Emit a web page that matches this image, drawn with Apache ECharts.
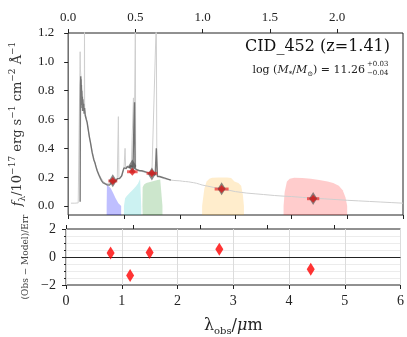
<!DOCTYPE html>
<html>
<head>
<meta charset="utf-8">
<script src="https://cdn.jsdelivr.net/npm/echarts@6/dist/echarts.min.js"></script>
<style>
  html, body { margin: 0; padding: 0; background: #fff; }
  #chart { width: 407px; height: 337px; }
</style>
</head>
<body>
<div id="chart"></div>
<script>
// redshift, used for the rest-frame top axis
const z = 1.41;

// model spectrum (light grey), obs wavelength in um
const modelSpec = [
  [0.05,0.02],[0.12,0.02],[0.18,0.022],[0.212,0.02],[0.215,1.07],[0.22,0.95],[0.228,0.9],[0.24,0.82],
  [0.26,0.76],[0.28,0.7],[0.29,0.68],[0.293,1.3],[0.296,0.67],[0.31,0.64],[0.34,0.58],[0.38,0.48],
  [0.43,0.38],[0.48,0.3],[0.53,0.24],[0.58,0.2],[0.63,0.17],[0.68,0.155],[0.73,0.155],[0.78,0.165],
  [0.83,0.175],[0.88,0.185],[0.9,0.62],[0.91,0.19],[0.95,0.2],[0.98,0.23],[1.0,0.26],[1.02,0.4],
  [1.03,0.265],[1.08,0.27],[1.13,0.27],[1.17,0.75],[1.18,0.26],[1.205,1.3],[1.21,0.255],[1.26,0.25],
  [1.32,0.24],[1.4,0.23],[1.5,0.22],[1.58,1.3],[1.59,0.21],[1.65,0.2],[1.72,0.19],[1.8,0.183],
  [1.88,0.178],[1.95,0.176],[2.0,0.175],[2.05,0.172],[2.08,0.178],[2.1,0.17],[2.13,0.176],[2.16,0.168],
  [2.2,0.165],[2.25,0.162],[2.3,0.158],[2.35,0.152],[2.4,0.146],[2.5,0.138],[2.6,0.13],[2.7,0.122],
  [2.8,0.115],[2.9,0.108],[3.0,0.1],[3.1,0.095],[3.2,0.09],[3.35,0.085],[3.5,0.08],[3.7,0.073],
  [3.85,0.069],[4.0,0.066],[4.2,0.06],[4.4,0.055],[4.6,0.05],[4.8,0.045],[5.0,0.04],[5.2,0.036],
  [5.4,0.032],[5.6,0.028],[5.8,0.024],[6.0,0.02]
];

// observed spectrum (dark grey)
const obsSpec = [
  [0.215,0.03],[0.218,0.5],[0.222,0.84],[0.226,0.9],[0.229,0.8],[0.232,0.88],[0.235,0.74],[0.238,0.84],
  [0.241,0.7],[0.245,0.8],[0.249,0.68],[0.253,0.76],[0.258,0.66],[0.263,0.74],[0.27,0.66],[0.278,0.71],
  [0.286,0.64],[0.295,0.68],[0.305,0.63],[0.315,0.64],[0.325,0.6],[0.34,0.58],[0.36,0.53],[0.38,0.48],
  [0.4,0.44],[0.43,0.37],[0.46,0.32],[0.48,0.3],[0.5,0.27],[0.52,0.245],[0.55,0.215],[0.58,0.19],
  [0.6,0.175],[0.63,0.16],[0.66,0.15],[0.69,0.148],[0.72,0.15],[0.74,0.145],[0.76,0.158],[0.78,0.162],
  [0.8,0.172],[0.82,0.168],[0.84,0.18],[0.86,0.175],[0.88,0.19],[0.9,0.2],[0.92,0.19],[0.94,0.2],
  [0.96,0.21],[0.98,0.24],[1.0,0.265],[1.02,0.27],[1.04,0.26],[1.06,0.275],[1.08,0.27],[1.1,0.265],
  [1.12,0.28],[1.14,0.285],[1.16,0.27],[1.18,0.265],[1.19,0.72],[1.2,0.26],[1.22,0.255],[1.24,0.25],
  [1.26,0.255],[1.28,0.245],[1.3,0.24],[1.32,0.245],[1.34,0.235],[1.36,0.24],[1.38,0.23],[1.4,0.235],
  [1.42,0.225],[1.44,0.23],[1.46,0.22],[1.48,0.225],[1.5,0.215],[1.52,0.22],[1.54,0.21],[1.56,0.215],
  [1.58,0.4],[1.6,0.205],[1.62,0.2],[1.64,0.205],[1.66,0.195],[1.68,0.2],[1.7,0.19],[1.72,0.195],
  [1.74,0.185],[1.76,0.19],[1.78,0.18],[1.8,0.185],[1.82,0.178],[1.84,0.18]
];

// filter transmission curves (scaled)
const filterBlue = [[0.69,0],[0.695,0.15],[0.705,0.162],[0.72,0.155],[0.76,0.125],[0.8,0.095],[0.85,0.055],[0.9,0.02],[0.95,0]];
const filterCyan = [[1.0,0],[1.02,0.055],[1.05,0.07],[1.1,0.09],[1.15,0.11],[1.2,0.13],[1.25,0.155],[1.29,0.19],[1.3,0.2],[1.31,0]];
const filterGreen = [[1.33,0],[1.335,0.13],[1.36,0.15],[1.4,0.16],[1.45,0.165],[1.5,0.17],[1.55,0.175],[1.6,0.18],[1.65,0.185],[1.68,0.185],[1.69,0]];
const filterOrange = [[2.4,0],[2.44,0.12],[2.48,0.17],[2.53,0.19],[2.58,0.197],[2.7,0.198],[2.85,0.198],[2.92,0.195],[2.98,0.17],[3.05,0.16],[3.1,0.14],[3.13,0.08],[3.15,0]];
const filterRed = [[3.86,0],[3.88,0.1],[3.92,0.17],[3.97,0.19],[4.05,0.197],[4.2,0.195],[4.35,0.19],[4.5,0.18],[4.65,0.17],[4.75,0.16],[4.85,0.14],[4.92,0.11],[4.97,0.06],[5.0,0]];

// photometry
const photX = [0.8, 1.15, 1.5, 2.75, 4.39];
const photY = [0.174, 0.238, 0.227, 0.118, 0.051];
const photXErr = [0.08, 0.095, 0.095, 0.125, 0.11];
const modelPhotY = [0.176, 0.278, 0.222, 0.12, 0.052];
const resid = [0.28, -1.33, 0.32, 0.55, -0.87];

// tick labels
const obsTicks = [0, 1, 2, 3, 4, 5, 6];
const restTicks = [0, 0.5, 1.0, 1.5, 2.0];
const fluxTicks = [0, 0.2, 0.4, 0.6, 0.8, 1.0, 1.2];

const serif = '"DejaVu Serif", serif';
const tickFont = '"Liberation Serif", "DejaVu Serif", serif';

const chart = echarts.init(document.getElementById('chart'), null, { renderer: 'canvas' });

const fill = (data, color) => ({
  type: 'line', xAxisIndex: 0, yAxisIndex: 0, data: data,
  symbol: 'none', silent: true, z: 1,
  lineStyle: { width: 0 },
  areaStyle: { color: color, opacity: 1, origin: 'start' }
});

const option = {
  animation: false,
  backgroundColor: '#fff',
  grid: [
    { left: 66, right: 4, top: 33, height: 182, show: true, borderColor: '#222', borderWidth: 1, backgroundColor: 'transparent' },
    { left: 66, right: 4, top: 229, height: 64, show: true, borderColor: '#222', borderWidth: 1, backgroundColor: 'transparent' }
  ],
  xAxis: [
    { // top panel, observed
      type: 'value', gridIndex: 0, position: 'bottom', min: 0, max: 6, interval: 1,
      axisLine: { show: false, onZero: false },
      axisTick: { show: true, length: 4, lineStyle: { color: '#222' }, customValues: obsTicks },
      axisLabel: { show: false },
      splitLine: { show: false }
    },
    { // top panel, rest frame
      type: 'value', gridIndex: 0, position: 'top', min: 0, max: 6 / (1 + z),
      axisLine: { show: false, onZero: false },
      axisTick: { show: true, length: 4, lineStyle: { color: '#222' }, customValues: restTicks },
      axisLabel: {
        show: true, customValues: restTicks, margin: 9,
        fontFamily: tickFont, fontSize: 13, color: '#222',
        formatter: v => v.toFixed(1)
      },
      splitLine: { show: false }
    },
    { // residual panel, observed
      type: 'value', gridIndex: 1, position: 'bottom', min: 0, max: 6, interval: 1,
      axisLine: { show: false, onZero: false },
      axisTick: { show: true, length: 4, lineStyle: { color: '#222' } },
      axisLabel: { show: true, margin: 9, fontFamily: tickFont, fontSize: 14, color: '#222' },
      splitLine: { show: true, lineStyle: { color: '#dcdcdc', width: 1 } },
      name: '{l|λ}{s|obs}{l|/}{m|μ}{l|m}',
      nameLocation: 'middle', nameGap: 31,
      nameTextStyle: {
        rich: {
          l: { fontFamily: serif, fontSize: 16, color: '#222', lineHeight: 20 },
          m: { fontFamily: serif, fontSize: 16, fontStyle: 'italic', color: '#222', lineHeight: 20 },
          s: { fontFamily: serif, fontSize: 10, color: '#222', verticalAlign: 'bottom', lineHeight: 12 }
        }
      }
    },
    { // residual panel, rest frame ticks
      type: 'value', gridIndex: 1, position: 'top', min: 0, max: 6 / (1 + z),
      axisLine: { show: false, onZero: false },
      axisTick: { show: true, length: 4, lineStyle: { color: '#222' }, customValues: restTicks },
      axisLabel: { show: false },
      splitLine: { show: false }
    }
  ],
  yAxis: [
    {
      type: 'value', gridIndex: 0, min: -0.062, max: 1.2,
      axisLine: { show: false, onZero: false },
      axisTick: { show: true, length: 4, lineStyle: { color: '#222' }, customValues: fluxTicks },
      axisLabel: {
        show: true, customValues: fluxTicks, margin: 14,
        fontFamily: tickFont, fontSize: 13, color: '#222',
        formatter: v => v.toFixed(1)
      },
      splitLine: { show: false },
      name: '{i|f}{sb|λ}{n|/10}{sp|−17}{n| erg s}{sp|−1}{n| cm}{sp|−2}{n| Å}{sp|−1}',
      nameLocation: 'middle', nameRotate: 90, nameGap: 33,
      nameTextStyle: {
        rich: {
          n: { fontFamily: serif, fontSize: 13, color: '#333', lineHeight: 19 },
          i: { fontFamily: serif, fontSize: 13, fontStyle: 'italic', color: '#333', lineHeight: 19 },
          sp: { fontFamily: serif, fontSize: 9, color: '#333', verticalAlign: 'top', lineHeight: 10 },
          sb: { fontFamily: serif, fontSize: 9, color: '#333', verticalAlign: 'bottom', lineHeight: 10 }
        }
      }
    },
    {
      type: 'value', gridIndex: 1, min: -2, max: 2, interval: 2,
      axisLine: { show: false, onZero: false },
      axisTick: { show: true, length: 4, lineStyle: { color: '#222' } },
      minorTick: { show: true, splitNumber: 4, length: 2, lineStyle: { color: '#222' } },
      minorSplitLine: { show: true, lineStyle: { color: '#ececec', width: 1 } },
      axisLabel: {
        show: true, margin: 10, fontFamily: tickFont, fontSize: 14, color: '#222',
        formatter: v => String(v).replace('-', '−')
      },
      splitLine: { show: false },
      name: '(Obs − Model)/Err',
      nameLocation: 'middle', nameRotate: 90, nameGap: 36,
      nameTextStyle: { fontFamily: serif, fontSize: 9, color: '#444' }
    }
  ],
  graphic: [
    {
      type: 'text', x: 390, y: 47, z: 100,
      style: {
        text: 'CID_452 (z=1.41)', font: '16px ' + serif, fill: '#111',
        align: 'right', verticalAlign: 'middle', textAlign: 'right', textVerticalAlign: 'middle'
      }
    },
    {
      type: 'text', x: 365, y: 70, z: 100,
      style: {
        text: '{n|log (}{i|M}{s|*}{n|/}{i|M}{s|⊙}{n|) = 11.26}',
        align: 'right', verticalAlign: 'middle', textAlign: 'right', textVerticalAlign: 'middle',
        rich: {
          n: { font: '11px ' + serif, fill: '#222', lineHeight: 16 },
          i: { font: 'italic 11px ' + serif, fill: '#222', lineHeight: 16 },
          s: { font: '7px ' + serif, fill: '#222', verticalAlign: 'bottom', lineHeight: 9 }
        }
      }
    },
    {
      type: 'text', x: 367, y: 64, z: 100,
      style: { text: '+0.03', font: '7px ' + serif, fill: '#222', align: 'left', verticalAlign: 'middle', textAlign: 'left', textVerticalAlign: 'middle' }
    },
    {
      type: 'text', x: 367, y: 73, z: 100,
      style: { text: '−0.04', font: '7px ' + serif, fill: '#222', align: 'left', verticalAlign: 'middle', textAlign: 'left', textVerticalAlign: 'middle' }
    }
  ],
  series: [
    fill(filterBlue, 'rgba(0,0,255,0.25)'),
    fill(filterCyan, 'rgba(0,191,191,0.2)'),
    fill(filterGreen, 'rgba(0,128,0,0.2)'),
    fill(filterOrange, 'rgba(255,165,0,0.2)'),
    fill(filterRed, 'rgba(255,0,0,0.2)'),
    {
      type: 'line', xAxisIndex: 0, yAxisIndex: 0, data: modelSpec,
      symbol: 'none', silent: true, z: 2,
      lineStyle: { color: '#cfcfcf', width: 1 }
    },
    {
      type: 'line', xAxisIndex: 0, yAxisIndex: 0, data: obsSpec,
      symbol: 'none', silent: true, z: 3,
      lineStyle: { color: 'rgba(90,90,90,0.8)', width: 1.4 }
    },
    {
      type: 'custom', xAxisIndex: 0, yAxisIndex: 0, z: 4,
      data: photX.map((x, i) => [x, photY[i], photXErr[i]]),
      encode: { x: 0, y: 1 },
      renderItem: (params, api) => {
        const x = api.value(0), y = api.value(1), dx = api.value(2);
        const p1 = api.coord([x - dx, y]);
        const p2 = api.coord([x + dx, y]);
        return {
          type: 'line',
          shape: { x1: p1[0], y1: p1[1], x2: p2[0], y2: p2[1] },
          style: { stroke: 'rgba(235,40,40,0.7)', lineWidth: 3 }
        };
      }
    },
    {
      type: 'scatter', xAxisIndex: 0, yAxisIndex: 0, z: 5,
      data: photX.map((x, i) => [x, modelPhotY[i]]),
      symbol: 'diamond', symbolSize: [8, 13],
      itemStyle: { color: 'rgba(80,80,80,0.85)' }
    },
    {
      type: 'scatter', xAxisIndex: 0, yAxisIndex: 0, z: 6,
      data: photX.map((x, i) => [x, photY[i]]),
      symbol: 'diamond', symbolSize: [7, 8],
      itemStyle: { color: '#d81e1e' }
    },
    {
      type: 'scatter', xAxisIndex: 2, yAxisIndex: 1, z: 6,
      data: photX.map((x, i) => [x, resid[i]]),
      symbol: 'diamond', symbolSize: [8, 13],
      itemStyle: { color: '#ff0000' },
      markLine: {
        silent: true, symbol: 'none', animation: false,
        label: { show: false },
        lineStyle: { color: '#222', width: 1, type: 'solid' },
        data: [{ yAxis: 0 }]
      }
    }
  ]
};

chart.setOption(option);
</script>
</body>
</html>
